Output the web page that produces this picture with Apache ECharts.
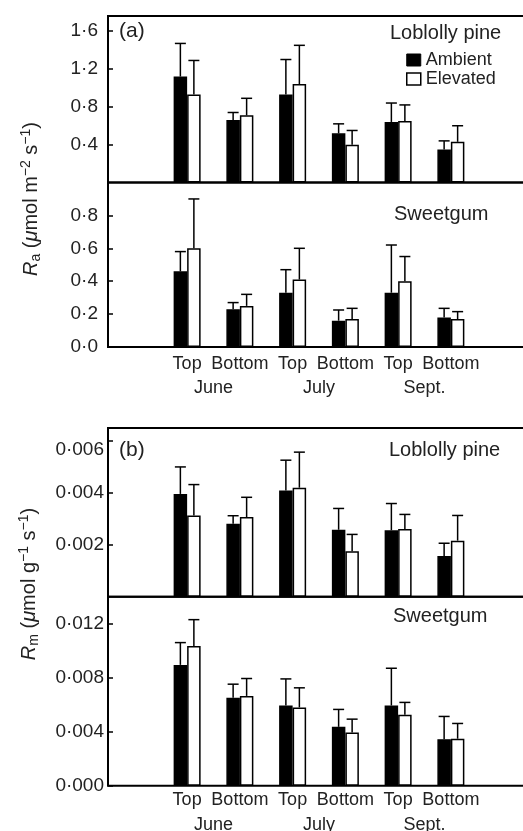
<!DOCTYPE html>
<html>
<head>
<meta charset="utf-8">
<script src="https://cdn.jsdelivr.net/npm/echarts@6/dist/echarts.min.js"></script>
<style>
html,body{margin:0;padding:0;background:#fff;}
#chart{width:523px;height:831px;}
</style>
</head>
<body>
<div id="chart"></div>
<script>
// ---------- data ----------
var months = ['June', 'July', 'Sept.'];
var positions = ['Top', 'Bottom'];

// Panel (a): Ra, Loblolly pine
var raPineAmbient     = [1.12, 0.66, 0.93, 0.52, 0.64, 0.35];
var raPineAmbientSE   = [0.35, 0.08, 0.37, 0.10, 0.20, 0.09];
var raPineElevated    = [0.93, 0.71, 1.04, 0.40, 0.65, 0.43];
var raPineElevatedSE  = [0.36, 0.18, 0.41, 0.15, 0.17, 0.17];
// Panel (a): Ra, Sweetgum
var raGumAmbient      = [0.46, 0.23, 0.33, 0.16, 0.33, 0.18];
var raGumAmbientSE    = [0.12, 0.04, 0.14, 0.065, 0.29, 0.055];
var raGumElevated     = [0.60, 0.25, 0.41, 0.17, 0.40, 0.17];
var raGumElevatedSE   = [0.30, 0.07, 0.19, 0.065, 0.15, 0.045];
// Panel (b): Rm, Loblolly pine
var rmPineAmbient     = [0.00396, 0.00281, 0.00409, 0.00258, 0.00256, 0.00157];
var rmPineAmbientSE   = [0.00104, 0.00031, 0.00117, 0.00082, 0.00103, 0.00049];
var rmPineElevated    = [0.00313, 0.00307, 0.00420, 0.00175, 0.00261, 0.00216];
var rmPineElevatedSE  = [0.00119, 0.00076, 0.00137, 0.00065, 0.00056, 0.00097];
// Panel (b): Rm, Sweetgum
var rmGumAmbient      = [0.00895, 0.00651, 0.00594, 0.00436, 0.00594, 0.00345];
var rmGumAmbientSE    = [0.00165, 0.00101, 0.00197, 0.00129, 0.00276, 0.00168];
var rmGumElevated     = [0.01035, 0.00665, 0.00580, 0.00395, 0.00525, 0.00348];
var rmGumElevatedSE   = [0.00195, 0.00129, 0.00145, 0.00098, 0.00092, 0.00113];

// y-axis tick settings
var raPineTicks = {max: 1.76, interval: 0.4, dec: 1};
var raGumTicks  = {max: 1.0, interval: 0.2, dec: 1};
var rmPineTicks = {max: 0.0065, interval: 0.002, dec: 3};
var rmGumTicks  = {max: 0.014, interval: 0.004, dec: 3};

// ---------- build ----------
var FONT = '"Liberation Sans", Arial, Helvetica, sans-serif';
var BAR_W = 13.5;
var CAP_W = 11;

// categories: a blank slot first and last, then month/position pairs
var cats = ['pad0'];
months.forEach(function (m) { positions.forEach(function (p) { cats.push(m + '|' + p); }); });
cats.push('pad1');

function padded(arr) { return [null].concat(arr).concat([null]); }
function errData(mean, se) {
  return mean.map(function (v, i) { return [i + 1, v, se[i]]; });
}

var gridRects = [
  {top: 16, height: 166.5},
  {top: 182.5, height: 164.5},
  {top: 428, height: 168.7},
  {top: 596.7, height: 189}
];
var grids = [];
gridRects.forEach(function (r) {
  grids.push({left: 108, width: 422, top: r.top, height: r.height, show: true,
    borderColor: '#000', borderWidth: 2, backgroundColor: 'transparent',
    containLabel: false, outerBoundsMode: 'none'});
});
// overlay grids for month labels (same rect as the two lower grids)
grids.push({left: 108, width: 422, top: gridRects[1].top, height: gridRects[1].height, show: false, outerBoundsMode: 'none'});
grids.push({left: 108, width: 422, top: gridRects[3].top, height: gridRects[3].height, show: false, outerBoundsMode: 'none'});

function fmt(dec) {
  return function (v) { return v.toFixed(dec).replace('.', '\u00b7'); };
}

var tickSets = [raPineTicks, raGumTicks, rmPineTicks, rmGumTicks];
var labelMargins = [10, 10, 4, 4];
var xLabelMargins = [0, 8, 0, 5];
var xAxes = [], yAxes = [];
for (var g = 0; g < 4; g++) {
  var showLabels = (g === 1 || g === 3);
  xAxes.push({
    type: 'category', gridIndex: g, data: cats,
    axisLine: {show: false}, axisTick: {show: false}, splitLine: {show: false},
    axisLabel: {
      show: showLabels, interval: 0, margin: xLabelMargins[g],
      color: '#222', fontSize: 18, fontFamily: FONT,
      formatter: function (v) { var k = v.indexOf('|'); return k < 0 ? '' : v.slice(k + 1); }
    }
  });
  var t = tickSets[g];
  var lblFmt = fmt(t.dec);
  if (g === 2) {
    lblFmt = (function (base) {
      return function (v) {
        var s = base(v);
        return Math.abs(v - 0.006) < 1e-9 ? '{lo|' + s + '}' : s;
      };
    })(fmt(t.dec));
  }
  yAxes.push({
    type: 'value', gridIndex: g, min: 0, max: t.max, interval: t.interval,
    axisLine: {show: false},
    axisTick: {show: true, inside: true, length: 5, lineStyle: {color: '#000', width: 1.5}},
    splitLine: {show: false},
    axisLabel: {
      show: true, showMinLabel: (g === 1 || g === 3), showMaxLabel: false,
      margin: labelMargins[g], color: '#222', fontSize: 19, fontFamily: FONT,
      formatter: lblFmt,
      rich: {lo: {padding: [18, 0, 0, 0], fontSize: 19, fontFamily: FONT, color: '#222'}}
    }
  });
}
// month axes on overlay grids
[4, 5].forEach(function (g, k) {
  xAxes.push({
    type: 'value', gridIndex: g, min: 0, max: 8, interval: 2,
    axisLine: {show: false}, axisTick: {show: false}, splitLine: {show: false},
    axisLabel: {
      show: true, margin: k === 0 ? 32 : 30, color: '#222', fontSize: 18, fontFamily: FONT,
      showMinLabel: true, showMaxLabel: true,
      formatter: function (v) { var i = Math.round(v / 2) - 1; return months[i] || ''; }
    }
  });
  yAxes.push({type: 'value', gridIndex: g, min: 0, max: 1, show: false});
});

function errRender(sign) {
  return function (params, api) {
    var i = api.value(0), m = api.value(1), s = api.value(2);
    var p0 = api.coord([i, m]);
    var p1 = api.coord([i, m + s]);
    var x = p0[0] + sign * BAR_W / 2;
    return {
      type: 'group',
      children: [
        {type: 'line', shape: {x1: x, y1: p0[1], x2: x, y2: p1[1]}, style: {stroke: '#000', lineWidth: 1.5}},
        {type: 'line', shape: {x1: x - CAP_W / 2, y1: p1[1], x2: x + CAP_W / 2, y2: p1[1]}, style: {stroke: '#000', lineWidth: 1.5}}
      ]
    };
  };
}

var panels = [
  [raPineAmbient, raPineAmbientSE, raPineElevated, raPineElevatedSE],
  [raGumAmbient, raGumAmbientSE, raGumElevated, raGumElevatedSE],
  [rmPineAmbient, rmPineAmbientSE, rmPineElevated, rmPineElevatedSE],
  [rmGumAmbient, rmGumAmbientSE, rmGumElevated, rmGumElevatedSE]
];
var series = [];
panels.forEach(function (p, g) {
  series.push({
    name: 'Ambient', type: 'bar', xAxisIndex: g, yAxisIndex: g,
    data: padded(p[0]), barWidth: BAR_W, barGap: '0%',
    itemStyle: {color: '#000', borderColor: '#000', borderWidth: 1.5},
    silent: true, animation: false
  });
  series.push({
    name: 'Elevated', type: 'bar', xAxisIndex: g, yAxisIndex: g,
    data: padded(p[2]), barWidth: BAR_W, barGap: '0%',
    itemStyle: {color: '#fff', borderColor: '#000', borderWidth: 1.5},
    silent: true, animation: false
  });
  series.push({
    type: 'custom', xAxisIndex: g, yAxisIndex: g, renderItem: errRender(-1),
    data: errData(p[0], p[1]), encode: {x: 0, y: 1}, z: 5, silent: true, animation: false
  });
  series.push({
    type: 'custom', xAxisIndex: g, yAxisIndex: g, renderItem: errRender(1),
    data: errData(p[2], p[3]), encode: {x: 0, y: 1}, z: 5, silent: true, animation: false
  });
});

function txt(text, x, y, size, align) {
  return {type: 'text', x: x, y: y, silent: true,
    style: {text: text, fontSize: size, fontFamily: FONT, fill: '#222', align: align || 'left', verticalAlign: 'middle'}};
}
function axisName(sub, unit, x, y) {
  var text = '{i|R}{sub|' + sub + '} ({i|\u03bc}mol ' + unit + ')';
  return {type: 'text', x: x, y: y, rotation: Math.PI / 2, silent: true,
    style: {
      text: text, fontSize: 20, fontFamily: FONT, fill: '#222', align: 'center', verticalAlign: 'middle', lineHeight: 24,
      rich: {
        i: {fontStyle: 'italic', fontSize: 20, fontFamily: FONT, fill: '#222', lineHeight: 24},
        sub: {fontSize: 14, fontFamily: FONT, fill: '#222', verticalAlign: 'bottom', lineHeight: 14},
        sup: {fontSize: 14, fontFamily: FONT, fill: '#222', verticalAlign: 'top', lineHeight: 14}
      }
    }};
}

var option = {
  backgroundColor: '#fff',
  animation: false,
  grid: grids,
  xAxis: xAxes,
  yAxis: yAxes,
  legend: {
    show: true, orient: 'vertical', left: 406, top: 51, padding: 0,
    itemWidth: 14, itemHeight: 12, itemGap: 1, selectedMode: false,
    textStyle: {fontSize: 18, fontFamily: FONT, color: '#222'},
    data: [
      {name: 'Ambient', icon: 'rect', itemStyle: {color: '#000', borderColor: '#000', borderWidth: 1}},
      {name: 'Elevated', icon: 'rect', itemStyle: {color: '#fff', borderColor: '#000', borderWidth: 1.5}}
    ]
  },
  series: series,
  graphic: [
    txt('(a)', 119, 31, 21),
    txt('Loblolly pine', 390, 33, 20),
    txt('Sweetgum', 394, 214, 20),
    txt('(b)', 119, 450, 21),
    txt('Loblolly pine', 389, 450, 20),
    txt('Sweetgum', 393, 616, 20),
    axisName('a', 'm{sup|\u22122} s{sup|\u22121}', 31, 199),
    axisName('m', 'g{sup|\u22121} s{sup|\u22121}', 29, 584)
  ]
};

var chart = echarts.init(document.getElementById('chart'), null, {renderer: 'canvas'});
chart.setOption(option);
</script>
</body>
</html>
